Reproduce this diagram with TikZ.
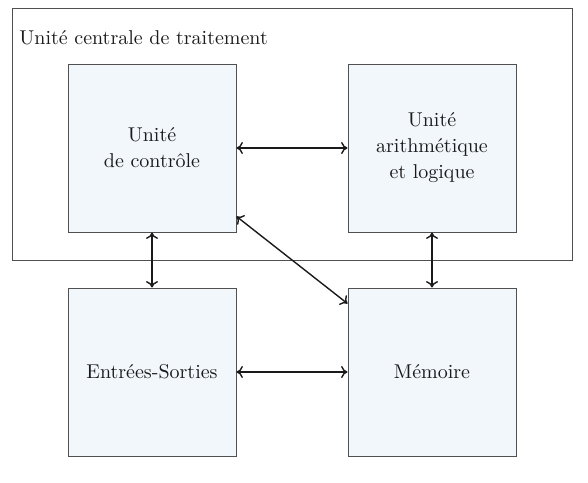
\documentclass[tikz,border=0pt]{standalone}
\usepackage{tikz}
\usetikzlibrary{arrows.meta,positioning}
\definecolor{cpuInk}{HTML}{1A1A1A}
\definecolor{cpuEdge}{HTML}{505050}
\definecolor{cpuFill}{HTML}{F2F7FB}

\begin{document}
\begin{tikzpicture}[
  x=0.5pt,y=-0.5pt,
  font=\fontsize{10}{13}\selectfont,
  bloc/.style={draw=cpuEdge,line width=0.5pt,minimum size=84pt,
               inner sep=0pt,align=center,fill=cpuFill,text=cpuInk},
  fl/.style={{To[length=3.2pt,width=6pt]}-{To[length=3.2pt,width=6pt]},
             line width=0.7pt,draw=cpuInk}
]
\useasboundingbox (0,0) rectangle (588,482);
\draw[cpuEdge,line width=0.5pt] (12,8) rectangle (572,260);
\node[anchor=west,text=cpuInk,inner sep=0pt] (uct) at (19,38) {Unité centrale de traitement};
\node[bloc] (ctrl) at (152,148) {Unité\\de contrôle};
\node[bloc] (alu)  at (432,148) {Unité\\arithmétique\\et logique};
\node[bloc] (es)   at (152,372) {Entrées-Sorties};
\node[bloc] (mem)  at (432,372) {Mémoire};
\draw[fl] (ctrl) -- (alu);
\draw[fl] (es) -- (mem);
\draw[fl] (ctrl) -- (es);
\draw[fl] (alu) -- (mem);
\draw[fl] (ctrl.-39) -- (mem.141);
\end{tikzpicture}
\end{document}
